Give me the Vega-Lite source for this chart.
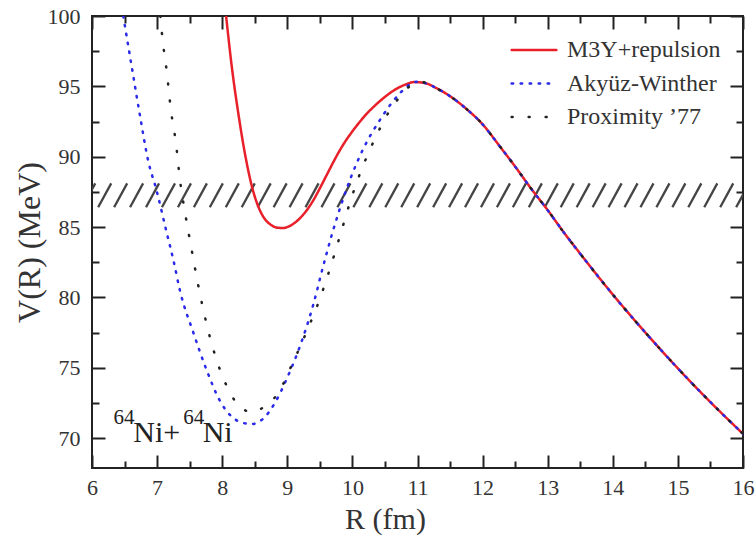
{
  "$schema": "https://vega.github.io/schema/vega-lite/v6.json",
  "width": 651,
  "height": 452,
  "autosize": {"type": "none"},
  "padding": {"left": 92, "top": 16, "right": 12, "bottom": 74},
  "background": "white",
  "config": {
    "view": {"stroke": "#222222", "strokeWidth": 2},
    "font": "Liberation Serif, DejaVu Serif, serif",
    "axis": {
      "domain": false,
      "grid": false,
      "ticks": true,
      "zindex": 1,
      "labelFont": "Liberation Serif, DejaVu Serif, serif",
      "labelFontSize": 22,
      "labelColor": "#333333",
      "labelOverlap": false,
      "labelFlush": false,
      "tickColor": "#222222",
      "tickWidth": 2,
      "titleFont": "Liberation Serif, DejaVu Serif, serif",
      "titleColor": "#333333",
      "titleFontWeight": "normal"
    },
    "legend": {
      "orient": "none",
      "legendX": 418,
      "legendY": 21,
      "padding": 0,
      "title": null,
      "labelFont": "Liberation Serif, DejaVu Serif, serif",
      "labelFontSize": 24,
      "labelColor": "#333333",
      "symbolType": "stroke",
      "symbolSize": 2000,
      "symbolStrokeWidth": 2.5,
      "clipHeight": 26,
      "rowPadding": 7.5,
      "labelOffset": 9
    }
  },
  "datasets": {
    "curves": [
      {"s": "M3Y+repulsion", "R": 8.06, "V": 100},
      {"s": "M3Y+repulsion", "R": 8.15, "V": 96.3},
      {"s": "M3Y+repulsion", "R": 8.25, "V": 93.0},
      {"s": "M3Y+repulsion", "R": 8.35, "V": 90.2},
      {"s": "M3Y+repulsion", "R": 8.45, "V": 88.0},
      {"s": "M3Y+repulsion", "R": 8.55, "V": 86.5},
      {"s": "M3Y+repulsion", "R": 8.65, "V": 85.6},
      {"s": "M3Y+repulsion", "R": 8.75, "V": 85.15},
      {"s": "M3Y+repulsion", "R": 8.85, "V": 84.95},
      {"s": "M3Y+repulsion", "R": 8.93, "V": 84.93},
      {"s": "M3Y+repulsion", "R": 9.0, "V": 85.0},
      {"s": "M3Y+repulsion", "R": 9.1, "V": 85.25},
      {"s": "M3Y+repulsion", "R": 9.2, "V": 85.65},
      {"s": "M3Y+repulsion", "R": 9.3, "V": 86.2},
      {"s": "M3Y+repulsion", "R": 9.4, "V": 86.9},
      {"s": "M3Y+repulsion", "R": 9.5, "V": 87.75},
      {"s": "M3Y+repulsion", "R": 9.6, "V": 88.65},
      {"s": "M3Y+repulsion", "R": 9.7, "V": 89.55},
      {"s": "M3Y+repulsion", "R": 9.8, "V": 90.4},
      {"s": "M3Y+repulsion", "R": 9.9, "V": 91.15},
      {"s": "M3Y+repulsion", "R": 10.0, "V": 91.8},
      {"s": "M3Y+repulsion", "R": 10.1, "V": 92.4},
      {"s": "M3Y+repulsion", "R": 10.2, "V": 92.95},
      {"s": "M3Y+repulsion", "R": 10.35, "V": 93.65},
      {"s": "M3Y+repulsion", "R": 10.5, "V": 94.25},
      {"s": "M3Y+repulsion", "R": 10.65, "V": 94.75},
      {"s": "M3Y+repulsion", "R": 10.8, "V": 95.1},
      {"s": "M3Y+repulsion", "R": 10.95, "V": 95.3},
      {"s": "M3Y+repulsion", "R": 11.1, "V": 95.25},
      {"s": "M3Y+repulsion", "R": 11.3, "V": 94.85},
      {"s": "M3Y+repulsion", "R": 11.5, "V": 94.3},
      {"s": "M3Y+repulsion", "R": 11.75, "V": 93.4},
      {"s": "M3Y+repulsion", "R": 12.0, "V": 92.3},
      {"s": "M3Y+repulsion", "R": 12.27, "V": 90.7},
      {"s": "M3Y+repulsion", "R": 12.5, "V": 89.3},
      {"s": "M3Y+repulsion", "R": 12.75, "V": 87.7},
      {"s": "M3Y+repulsion", "R": 13.0, "V": 86.2},
      {"s": "M3Y+repulsion", "R": 13.25, "V": 84.6},
      {"s": "M3Y+repulsion", "R": 13.5, "V": 83.1},
      {"s": "M3Y+repulsion", "R": 14.0, "V": 80.2},
      {"s": "M3Y+repulsion", "R": 14.5, "V": 77.5},
      {"s": "M3Y+repulsion", "R": 15.0, "V": 74.95},
      {"s": "M3Y+repulsion", "R": 15.5, "V": 72.55},
      {"s": "M3Y+repulsion", "R": 16.0, "V": 70.3},

      {"s": "Akyüz-Winther", "R": 6.48, "V": 100},
      {"s": "Akyüz-Winther", "R": 6.61, "V": 96.4},
      {"s": "Akyüz-Winther", "R": 6.74, "V": 92.84},
      {"s": "Akyüz-Winther", "R": 6.86, "V": 89.77},
      {"s": "Akyüz-Winther", "R": 6.99, "V": 87.63},
      {"s": "Akyüz-Winther", "R": 7.15, "V": 84.55},
      {"s": "Akyüz-Winther", "R": 7.25, "V": 82.66},
      {"s": "Akyüz-Winther", "R": 7.35, "V": 80.5},
      {"s": "Akyüz-Winther", "R": 7.56, "V": 77.45},
      {"s": "Akyüz-Winther", "R": 7.76, "V": 74.84},
      {"s": "Akyüz-Winther", "R": 7.97, "V": 72.6},
      {"s": "Akyüz-Winther", "R": 8.15, "V": 71.5},
      {"s": "Akyüz-Winther", "R": 8.3, "V": 71.1},
      {"s": "Akyüz-Winther", "R": 8.46, "V": 71.0},
      {"s": "Akyüz-Winther", "R": 8.61, "V": 71.3},
      {"s": "Akyüz-Winther", "R": 8.81, "V": 72.5},
      {"s": "Akyüz-Winther", "R": 9.0, "V": 74.3},
      {"s": "Akyüz-Winther", "R": 9.2, "V": 76.6},
      {"s": "Akyüz-Winther", "R": 9.4, "V": 79.5},
      {"s": "Akyüz-Winther", "R": 9.55, "V": 82.2},
      {"s": "Akyüz-Winther", "R": 9.7, "V": 84.7},
      {"s": "Akyüz-Winther", "R": 9.85, "V": 86.9},
      {"s": "Akyüz-Winther", "R": 10.0, "V": 88.8},
      {"s": "Akyüz-Winther", "R": 10.15, "V": 90.4},
      {"s": "Akyüz-Winther", "R": 10.3, "V": 91.7},
      {"s": "Akyüz-Winther", "R": 10.45, "V": 92.8},
      {"s": "Akyüz-Winther", "R": 10.6, "V": 93.8},
      {"s": "Akyüz-Winther", "R": 10.75, "V": 94.6},
      {"s": "Akyüz-Winther", "R": 10.9, "V": 95.2},
      {"s": "Akyüz-Winther", "R": 11.0, "V": 95.33},
      {"s": "Akyüz-Winther", "R": 11.1, "V": 95.25},
      {"s": "Akyüz-Winther", "R": 11.3, "V": 94.85},
      {"s": "Akyüz-Winther", "R": 11.5, "V": 94.3},
      {"s": "Akyüz-Winther", "R": 11.75, "V": 93.4},
      {"s": "Akyüz-Winther", "R": 12.0, "V": 92.3},
      {"s": "Akyüz-Winther", "R": 12.27, "V": 90.7},
      {"s": "Akyüz-Winther", "R": 12.5, "V": 89.3},
      {"s": "Akyüz-Winther", "R": 12.75, "V": 87.7},
      {"s": "Akyüz-Winther", "R": 13.0, "V": 86.2},
      {"s": "Akyüz-Winther", "R": 13.25, "V": 84.6},
      {"s": "Akyüz-Winther", "R": 13.5, "V": 83.1},
      {"s": "Akyüz-Winther", "R": 14.0, "V": 80.2},
      {"s": "Akyüz-Winther", "R": 14.5, "V": 77.5},
      {"s": "Akyüz-Winther", "R": 15.0, "V": 74.95},
      {"s": "Akyüz-Winther", "R": 15.5, "V": 72.55},
      {"s": "Akyüz-Winther", "R": 16.0, "V": 70.3},

      {"s": "Proximity ’77", "R": 7.05, "V": 100},
      {"s": "Proximity ’77", "R": 7.08, "V": 98.5},
      {"s": "Proximity ’77", "R": 7.15, "V": 96.0},
      {"s": "Proximity ’77", "R": 7.21, "V": 93.4},
      {"s": "Proximity ’77", "R": 7.29, "V": 90.95},
      {"s": "Proximity ’77", "R": 7.35, "V": 88.4},
      {"s": "Proximity ’77", "R": 7.43, "V": 86.0},
      {"s": "Proximity ’77", "R": 7.53, "V": 83.4},
      {"s": "Proximity ’77", "R": 7.63, "V": 80.9},
      {"s": "Proximity ’77", "R": 7.75, "V": 78.3},
      {"s": "Proximity ’77", "R": 7.89, "V": 75.9},
      {"s": "Proximity ’77", "R": 8.09, "V": 73.5},
      {"s": "Proximity ’77", "R": 8.22, "V": 72.5},
      {"s": "Proximity ’77", "R": 8.45, "V": 71.85},
      {"s": "Proximity ’77", "R": 8.68, "V": 72.35},
      {"s": "Proximity ’77", "R": 8.86, "V": 73.2},
      {"s": "Proximity ’77", "R": 9.07, "V": 75.2},
      {"s": "Proximity ’77", "R": 9.3, "V": 77.6},
      {"s": "Proximity ’77", "R": 9.5, "V": 79.9},
      {"s": "Proximity ’77", "R": 9.68, "V": 82.4},
      {"s": "Proximity ’77", "R": 9.83, "V": 84.7},
      {"s": "Proximity ’77", "R": 9.96, "V": 86.7},
      {"s": "Proximity ’77", "R": 10.1, "V": 88.6},
      {"s": "Proximity ’77", "R": 10.25, "V": 90.3},
      {"s": "Proximity ’77", "R": 10.4, "V": 91.8},
      {"s": "Proximity ’77", "R": 10.55, "V": 93.1},
      {"s": "Proximity ’77", "R": 10.7, "V": 94.1},
      {"s": "Proximity ’77", "R": 10.88, "V": 95.0},
      {"s": "Proximity ’77", "R": 11.05, "V": 95.3},
      {"s": "Proximity ’77", "R": 11.2, "V": 95.15},
      {"s": "Proximity ’77", "R": 11.3, "V": 94.85},
      {"s": "Proximity ’77", "R": 11.5, "V": 94.3},
      {"s": "Proximity ’77", "R": 11.75, "V": 93.4},
      {"s": "Proximity ’77", "R": 12.0, "V": 92.3},
      {"s": "Proximity ’77", "R": 12.27, "V": 90.7},
      {"s": "Proximity ’77", "R": 12.5, "V": 89.3},
      {"s": "Proximity ’77", "R": 12.75, "V": 87.7},
      {"s": "Proximity ’77", "R": 13.0, "V": 86.2},
      {"s": "Proximity ’77", "R": 13.25, "V": 84.6},
      {"s": "Proximity ’77", "R": 13.5, "V": 83.1},
      {"s": "Proximity ’77", "R": 14.0, "V": 80.2},
      {"s": "Proximity ’77", "R": 14.5, "V": 77.5},
      {"s": "Proximity ’77", "R": 15.0, "V": 74.95},
      {"s": "Proximity ’77", "R": 15.5, "V": 72.55},
      {"s": "Proximity ’77", "R": 16.0, "V": 70.3}
    ],
    "hatch": [
      {"a": 5.85, "b": 6.05, "lo": 86.4, "hi": 88.1},
      {"a": 6.095, "b": 6.295, "lo": 86.4, "hi": 88.1},
      {"a": 6.34, "b": 6.54, "lo": 86.4, "hi": 88.1},
      {"a": 6.585, "b": 6.785, "lo": 86.4, "hi": 88.1},
      {"a": 6.83, "b": 7.03, "lo": 86.4, "hi": 88.1},
      {"a": 7.075, "b": 7.275, "lo": 86.4, "hi": 88.1},
      {"a": 7.32, "b": 7.52, "lo": 86.4, "hi": 88.1},
      {"a": 7.565, "b": 7.765, "lo": 86.4, "hi": 88.1},
      {"a": 7.81, "b": 8.01, "lo": 86.4, "hi": 88.1},
      {"a": 8.055, "b": 8.255, "lo": 86.4, "hi": 88.1},
      {"a": 8.3, "b": 8.5, "lo": 86.4, "hi": 88.1},
      {"a": 8.545, "b": 8.745, "lo": 86.4, "hi": 88.1},
      {"a": 8.79, "b": 8.99, "lo": 86.4, "hi": 88.1},
      {"a": 9.035, "b": 9.235, "lo": 86.4, "hi": 88.1},
      {"a": 9.28, "b": 9.48, "lo": 86.4, "hi": 88.1},
      {"a": 9.525, "b": 9.725, "lo": 86.4, "hi": 88.1},
      {"a": 9.77, "b": 9.97, "lo": 86.4, "hi": 88.1},
      {"a": 10.015, "b": 10.215, "lo": 86.4, "hi": 88.1},
      {"a": 10.26, "b": 10.46, "lo": 86.4, "hi": 88.1},
      {"a": 10.505, "b": 10.705, "lo": 86.4, "hi": 88.1},
      {"a": 10.75, "b": 10.95, "lo": 86.4, "hi": 88.1},
      {"a": 10.995, "b": 11.195, "lo": 86.4, "hi": 88.1},
      {"a": 11.24, "b": 11.44, "lo": 86.4, "hi": 88.1},
      {"a": 11.485, "b": 11.685, "lo": 86.4, "hi": 88.1},
      {"a": 11.73, "b": 11.93, "lo": 86.4, "hi": 88.1},
      {"a": 11.975, "b": 12.175, "lo": 86.4, "hi": 88.1},
      {"a": 12.22, "b": 12.42, "lo": 86.4, "hi": 88.1},
      {"a": 12.465, "b": 12.665, "lo": 86.4, "hi": 88.1},
      {"a": 12.71, "b": 12.91, "lo": 86.4, "hi": 88.1},
      {"a": 12.955, "b": 13.155, "lo": 86.4, "hi": 88.1},
      {"a": 13.2, "b": 13.4, "lo": 86.4, "hi": 88.1},
      {"a": 13.445, "b": 13.645, "lo": 86.4, "hi": 88.1},
      {"a": 13.69, "b": 13.89, "lo": 86.4, "hi": 88.1},
      {"a": 13.935, "b": 14.135, "lo": 86.4, "hi": 88.1},
      {"a": 14.18, "b": 14.38, "lo": 86.4, "hi": 88.1},
      {"a": 14.425, "b": 14.625, "lo": 86.4, "hi": 88.1},
      {"a": 14.67, "b": 14.87, "lo": 86.4, "hi": 88.1},
      {"a": 14.915, "b": 15.115, "lo": 86.4, "hi": 88.1},
      {"a": 15.16, "b": 15.36, "lo": 86.4, "hi": 88.1},
      {"a": 15.405, "b": 15.605, "lo": 86.4, "hi": 88.1},
      {"a": 15.65, "b": 15.85, "lo": 86.4, "hi": 88.1},
      {"a": 15.895, "b": 16.095, "lo": 86.4, "hi": 88.1}
    ],
    "sup": [
      {"t": "64", "R": 6.33, "V": 71.0},
      {"t": "64", "R": 7.40, "V": 71.0}
    ],
    "main": [
      {"t": "Ni+", "R": 6.635, "V": 69.74},
      {"t": "Ni", "R": 7.70, "V": 69.74}
    ]
  },
  "resolve": {"axis": {"x": "independent", "y": "independent"}},
  "layer": [
    {
      "data": {"name": "hatch"},
      "mark": {"type": "rule", "stroke": "#444444", "strokeWidth": 2.3, "clip": true},
      "encoding": {
        "x": {"field": "a", "type": "quantitative",
              "scale": {"domain": [6, 16], "nice": false, "zero": false},
              "axis": {"orient": "top", "values": [6.5, 7.5, 8.5, 9.5, 10.5, 11.5, 12.5, 13.5, 14.5, 15.5], "labels": false, "tickSize": 7, "offset": -7, "title": null}},
        "x2": {"field": "b"},
        "y": {"field": "lo", "type": "quantitative",
              "scale": {"domain": [67.87, 100], "nice": false, "zero": false},
              "axis": {"orient": "right", "values": [72.5, 77.5, 82.5, 87.5, 92.5, 97.5], "labels": false, "tickSize": 7, "offset": -7, "title": null}},
        "y2": {"field": "hi"}
      }
    },
    {
      "data": {"name": "curves"},
      "mark": {"type": "line", "strokeWidth": 2.5, "strokeCap": "round", "clip": true, "interpolate": "monotone"},
      "encoding": {
        "x": {"field": "R", "type": "quantitative",
              "scale": {"domain": [6, 16], "nice": false, "zero": false},
              "axis": {"orient": "bottom", "values": [6, 7, 8, 9, 10, 11, 12, 13, 14, 15, 16], "format": "d", "tickSize": 13, "offset": -13, "labelPadding": 9, "title": "R (fm)", "titleFontSize": 30, "titlePadding": 6, "titleX": 293}},
        "y": {"field": "V", "type": "quantitative",
              "scale": {"domain": [67.87, 100], "nice": false, "zero": false},
              "axis": {"orient": "left", "values": [70, 75, 80, 85, 90, 95, 100], "format": "d", "tickSize": 13, "offset": -13, "labelPadding": 12, "title": "V(R) (MeV)", "titleFontSize": 32, "titlePadding": 1}},
        "color": {"field": "s", "type": "nominal",
                  "scale": {"domain": ["M3Y+repulsion", "Akyüz-Winther", "Proximity ’77"], "range": ["#e8202a", "#2a2ae8", "#222222"]},
                  "legend": {"encode": {"symbols": {"update": {"strokeCap": {"value": "round"}}}}}},
        "strokeDash": {"field": "s", "type": "nominal",
                  "scale": {"domain": ["M3Y+repulsion", "Akyüz-Winther", "Proximity ’77"], "range": [[1, 0], [1.5, 7.5], [1, 16]]}}
      }
    },
    {
      "data": {"name": "sup"},
      "mark": {"type": "text", "font": "Liberation Serif, DejaVu Serif, serif", "fontSize": 21, "align": "left", "baseline": "alphabetic", "color": "#222222"},
      "encoding": {
        "x": {"field": "R", "type": "quantitative",
              "scale": {"domain": [6, 16], "nice": false, "zero": false},
              "axis": {"orient": "top", "values": [6, 7, 8, 9, 10, 11, 12, 13, 14, 15, 16], "labels": false, "tickSize": 13, "offset": -13, "title": null}},
        "y": {"field": "V", "type": "quantitative",
              "scale": {"domain": [67.87, 100], "nice": false, "zero": false},
              "axis": {"orient": "right", "values": [70, 75, 80, 85, 90, 95, 100], "labels": false, "tickSize": 13, "offset": -13, "title": null}},
        "text": {"field": "t"}
      }
    },
    {
      "data": {"name": "main"},
      "mark": {"type": "text", "font": "Liberation Serif, DejaVu Serif, serif", "fontSize": 30, "align": "left", "baseline": "alphabetic", "color": "#222222"},
      "encoding": {
        "x": {"field": "R", "type": "quantitative",
              "scale": {"domain": [6, 16], "nice": false, "zero": false},
              "axis": {"orient": "bottom", "values": [6.5, 7.5, 8.5, 9.5, 10.5, 11.5, 12.5, 13.5, 14.5, 15.5], "labels": false, "tickSize": 7, "offset": -7, "title": null}},
        "y": {"field": "V", "type": "quantitative",
              "scale": {"domain": [67.87, 100], "nice": false, "zero": false},
              "axis": {"orient": "left", "values": [72.5, 77.5, 82.5, 87.5, 92.5, 97.5], "labels": false, "tickSize": 7, "offset": -7, "title": null}},
        "text": {"field": "t"}
      }
    }
  ]
}
